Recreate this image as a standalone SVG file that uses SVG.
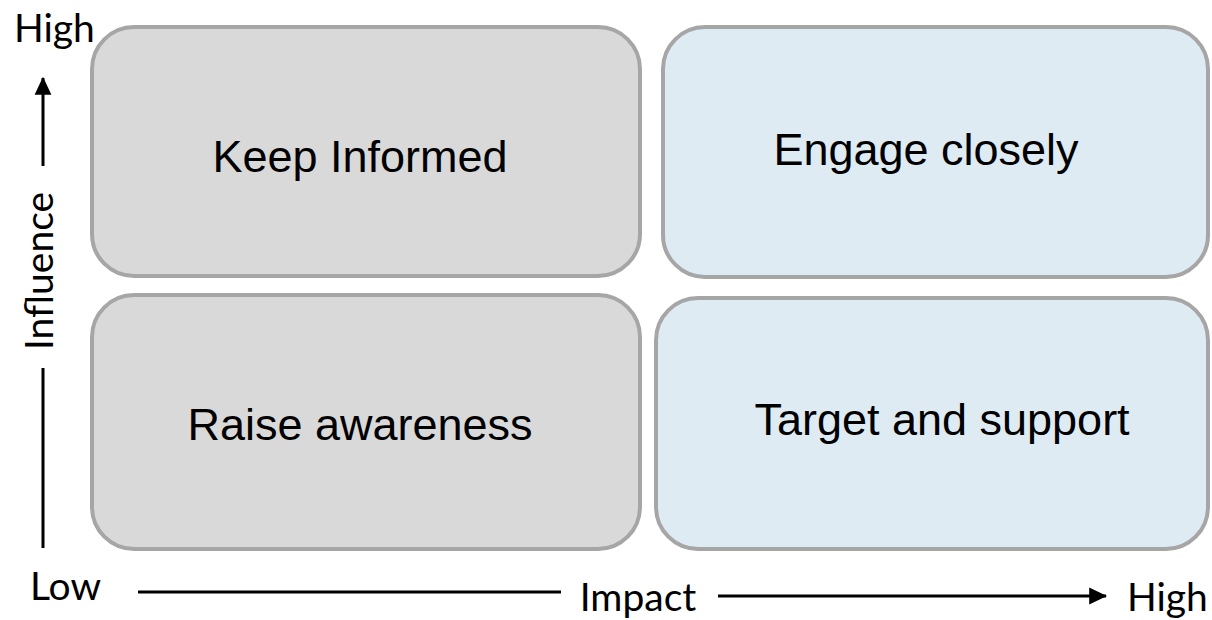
<svg xmlns="http://www.w3.org/2000/svg" width="1212" height="620" viewBox="0 0 1212 620">
<style>
.box{stroke:#a6a6a6;stroke-width:4}
.grey{fill:#d9d9d9}
.blue{fill:#deebf3}
.lbl{font-family:"Liberation Sans",Arial,sans-serif;font-size:45px;fill:#000;text-anchor:middle}
.ax{font-family:Lato,"Open Sans",sans-serif;font-size:39px;fill:#000}
.axl{stroke:#000;stroke-width:3;fill:none}
</style>
<defs>
<marker id="ah" markerWidth="6" markerHeight="6" refX="5.6" refY="3" orient="auto" markerUnits="strokeWidth">
<path d="M0,0.2 L6,3 L0,5.8 Z" fill="#000"/>
</marker>
</defs>
<rect width="1212" height="620" fill="#fff"/>
<g id="keep-informed">
<rect class="box grey" x="92" y="27" width="548" height="249" rx="42"/>
<text class="lbl" x="360" y="172">Keep Informed</text>
</g>
<g id="engage-closely">
<rect class="box blue" x="663" y="27" width="545" height="250" rx="42"/>
<text class="lbl" x="926" y="165">Engage closely</text>
</g>
<g id="raise-awareness">
<rect class="box grey" x="92" y="295" width="548" height="254" rx="42"/>
<text class="lbl" x="360" y="440">Raise awareness</text>
</g>
<g id="target-support">
<rect class="box blue" x="656" y="298" width="552" height="251" rx="42"/>
<text class="lbl" x="942" y="435">Target and support</text>
</g>
<g id="axes">
<line class="axl" x1="43" y1="548" x2="43" y2="368"/>
<line class="axl" x1="43" y1="166" x2="43" y2="78" marker-end="url(#ah)"/>
<line class="axl" x1="138" y1="592" x2="561" y2="592"/>
<line class="axl" x1="718" y1="596" x2="1106" y2="596" marker-end="url(#ah)"/>
</g>
<g id="labels">
<text class="ax" x="14" y="42">High</text>
<text class="ax" x="30" y="600">Low</text>
<text class="ax" x="638" y="611" text-anchor="middle">Impact</text>
<text class="ax" x="1127" y="611">High</text>
<text class="ax" transform="translate(53,271) rotate(-90)" text-anchor="middle">Influence</text>
</g>
</svg>
